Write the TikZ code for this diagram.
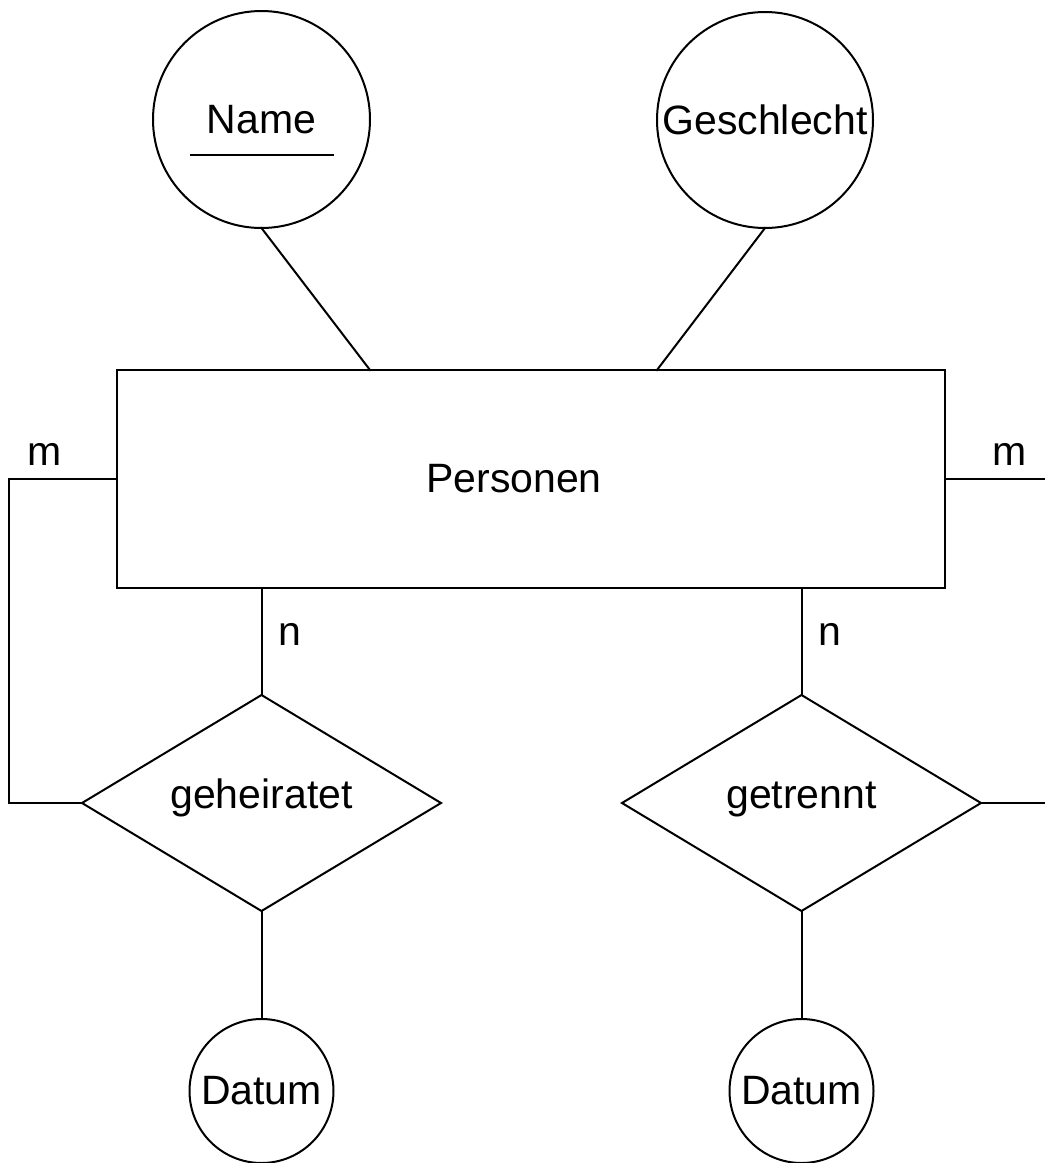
\documentclass[tikz,border=0pt]{standalone}
\usepackage{fontspec}
\setmainfont{Liberation Sans}
\usetikzlibrary{shapes.geometric,calc}
\tikzset{
  base/.style={draw=black, line width=2pt, inner sep=0pt, outer sep=0pt,
    font=\fontsize{41}{49}\selectfont},
  attr/.style={base, circle},
  entity/.style={base, rectangle, minimum width=828pt, minimum height=218pt},
  rel/.style={base, diamond, minimum width=359pt, minimum height=216pt,
    text height=21pt, text depth=11pt},
  card/.style={inner sep=0pt, anchor=base, font=\fontsize{41}{49}\selectfont},
  conn/.style={line width=2pt, line cap=rect}
}
\begin{document}
\begin{tikzpicture}[x=1pt,y=1pt]
\useasboundingbox (0,0) rectangle (1045,-1163);
\node[attr, minimum size=217pt] (name) at (261.5,-119.5) {Name};
\node[attr, minimum size=216pt] (gesch) at (765,-120) {Geschlecht};
\node[entity] (ent) at (531,-479) {Personen\hspace*{34pt}};
\node[rel] (rel1) at (261.5,-803) {geheiratet};
\node[rel] (rel2) at (801.5,-803) {getrennt};
\node[attr, minimum size=144pt] (dat1) at (261.5,-1091) {Datum};
\node[attr, minimum size=144pt] (dat2) at (801.5,-1091) {Datum};
% underline of key attribute
\draw[line width=2pt] ($(name.center)+(-72,-35.5)$) -- ($(name.center)+(72,-35.5)$);
% cardinalities
\node[card] (m1) at (45,-465) {m};
\node[card] (m2) at (1010,-465) {m};
\node[card] (n1) at (290,-645) {n};
\node[card] (n2) at (830,-645) {n};
% free ends at the right border
\coordinate (r1) at (1045,-479);
\coordinate (r2) at (1045,-803);
% connectors
\draw[conn] (name.south) -- ([xshift=253pt]ent.north west);
\draw[conn] (gesch.south) -- ([xshift=540pt]ent.north west);
\draw[line width=2pt] (ent.west) -- ++(-108,0) |- (rel1.west);
\draw[line width=2pt] (ent.east) -- (r1);
\draw[line width=2pt] (rel2.east) -- (r2);
\draw[line width=2pt] (rel1.north |- ent.south) -- (rel1.north);
\draw[line width=2pt] (rel2.north |- ent.south) -- (rel2.north);
\draw[line width=2pt] (rel1.south) -- (dat1.north);
\draw[line width=2pt] (rel2.south) -- (dat2.north);
\end{tikzpicture}
\end{document}
